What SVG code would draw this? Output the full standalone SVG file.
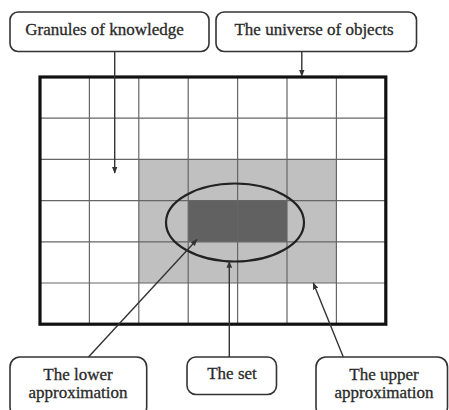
<svg xmlns="http://www.w3.org/2000/svg" width="449" height="410" viewBox="0 0 449 410">
<defs>
<style>
.box{fill:#fff;stroke:#333;stroke-width:1.6}
.lbl{font-family:'Liberation Serif','Times New Roman','DejaVu Serif',serif;font-size:17px;fill:#2a2a2a;stroke:#2a2a2a;stroke-width:0.3;text-anchor:middle}
.grid{stroke:#666;stroke-width:1.2;fill:none}
.conn{stroke:#333;stroke-width:1.4;fill:none;marker-end:url(#ah)}
</style>
<marker id="ah" viewBox="0 0 10 10" refX="9" refY="5" markerWidth="7" markerHeight="7" markerUnits="userSpaceOnUse" orient="auto">
<path d="M0,1 L10,5 L0,9 z" fill="#333"/>
</marker>
</defs>
<rect width="449" height="410" fill="#fff"/>
<g id="universe-grid">
<rect x="138.8" y="159.4" width="197.6" height="123.6" fill="#c0c0c0"/>
<rect x="188.2" y="200.6" width="98.8" height="41.2" fill="#616161"/>
<path class="grid" d="M89.4,77V324.2M138.8,77V324.2M188.2,77V324.2M237.6,77V324.2M287,77V324.2M336.4,77V324.2M40,118.2H385.8M40,159.4H385.8M40,200.6H385.8M40,241.8H385.8M40,283H385.8"/>
<rect x="40" y="77" width="345.8" height="247.2" fill="none" stroke="#111" stroke-width="3.2"/>
</g>
<g id="set-ellipse">
<ellipse cx="235" cy="222.5" rx="69" ry="39" fill="none" stroke="#222" stroke-width="2.2"/>
</g>
<g id="connectors">
<path class="conn" d="M114.7,51V173"/>
<path class="conn" d="M301.8,51V76"/>
<path class="conn" d="M88.5,357L197,239.5"/>
<path class="conn" d="M229.3,357V261.5"/>
<path class="conn" d="M343.3,357L313.3,283"/>
</g>
<g id="granules">
<rect class="box" x="10" y="12" width="199" height="39.5" rx="8"/>
<text class="lbl" x="104.5" y="35" font-family="Liberation Serif, serif">Granules of knowledge</text>
</g>
<g id="universe">
<rect class="box" x="216" y="12" width="200.5" height="39.5" rx="8"/>
<text class="lbl" x="314" y="35" font-family="Liberation Serif, serif">The universe of objects</text>
</g>
<g id="lower">
<rect class="box" x="10" y="357" width="136.7" height="60" rx="10"/>
<text class="lbl" x="78" y="380" font-family="Liberation Serif, serif">The lower</text>
<text class="lbl" x="78" y="398.3" font-family="Liberation Serif, serif">approximation</text>
</g>
<g id="set">
<rect class="box" x="187" y="357" width="89.5" height="37.5" rx="9"/>
<text class="lbl" x="232" y="379.3" font-family="Liberation Serif, serif">The set</text>
</g>
<g id="upper">
<rect class="box" x="316" y="357" width="131.5" height="60" rx="10"/>
<text class="lbl" x="384" y="380" font-family="Liberation Serif, serif">The upper</text>
<text class="lbl" x="384" y="398.3" font-family="Liberation Serif, serif">approximation</text>
</g>
</svg>
